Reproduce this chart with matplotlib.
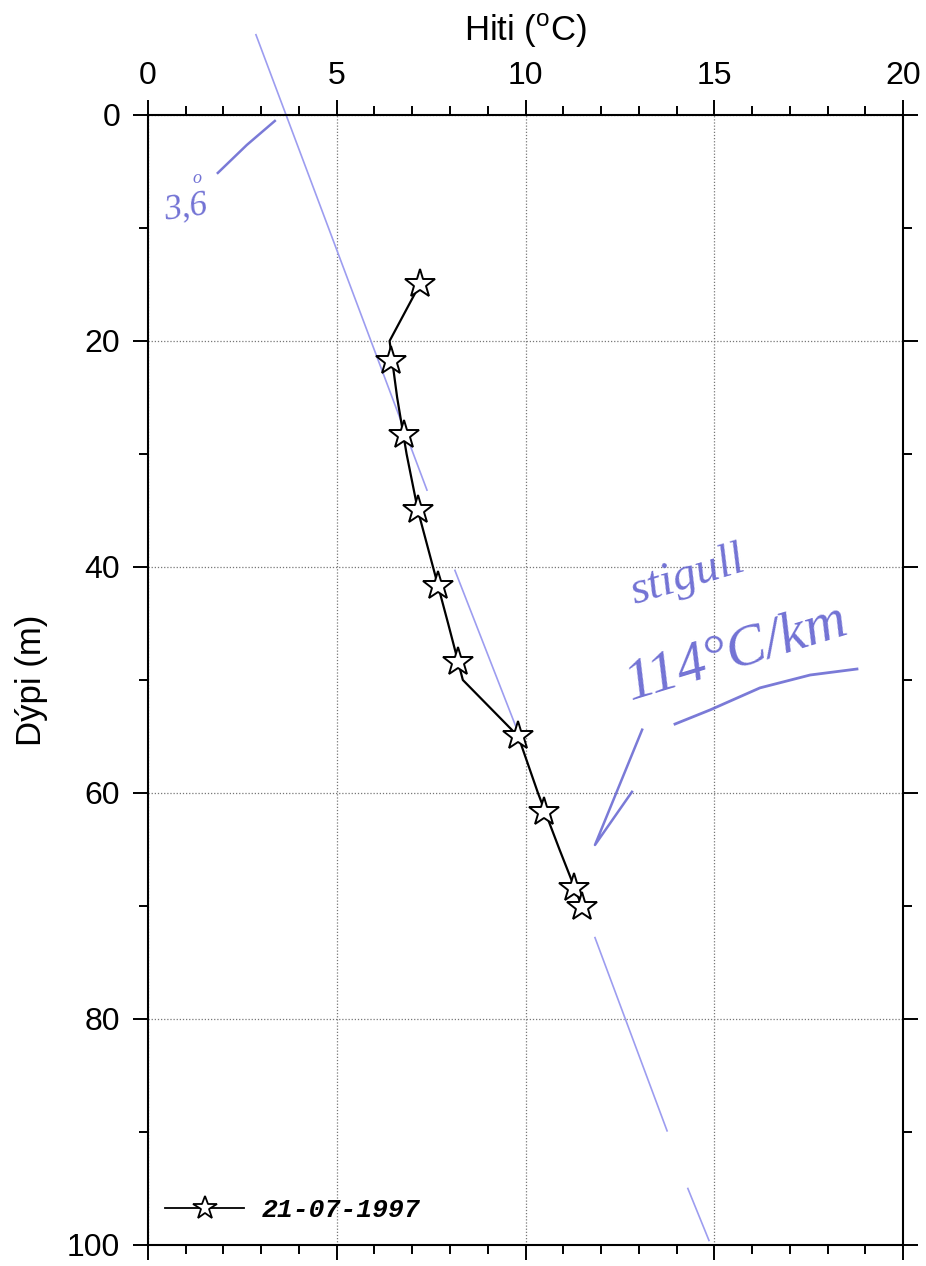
import matplotlib
matplotlib.use('Agg')
import matplotlib.pyplot as plt
from matplotlib.ticker import MultipleLocator

# temperature profile (line vertices)
lineDepth = [15, 20, 25, 30, 35, 40, 45, 50, 55, 60, 65, 70]
lineTemp = [7.2, 6.4, 6.6, 6.85, 7.15, 7.55, 7.95, 8.34, 9.81, 10.33, 10.9, 11.49]

# star markers
starDepth = [15.0, 21.8, 28.3, 35.0, 41.7, 48.4, 55.0, 61.7, 68.4, 70.1]
starTemp = [7.2, 6.45, 6.77, 7.15, 7.67, 8.21, 9.81, 10.5, 11.29, 11.49]

legendLabel = '21-07-1997'

# handdrawn pen line (segments of one straight gradient line)
penDepthStart = [-7.1, 40.3, 72.8, 95.0]
penDepthEnd = [33.2, 54.6, 89.9, 99.6]
penTempStart = [2.86, 8.13, 11.84, 14.30]
penTempEnd = [7.39, 9.80, 13.75, 14.86]

# handwritten strokes
curveTemp = [1.85, 2.62, 3.36]
curveDepth = [5.13, 2.65, 0.53]
underTemp = [13.96, 14.89, 16.21, 17.54, 18.78]
underDepth = [53.9, 52.65, 50.7, 49.56, 49.03]
arrowTemp = [13.09, 11.84, 12.82]
arrowDepth = [54.4, 64.6, 59.9]

penColor = '#9d9df0'
inkColor = '#6363d0'

plt.rcParams['font.family'] = ['Liberation Sans', 'DejaVu Sans']
plt.rcParams['mathtext.fontset'] = 'custom'
plt.rcParams['mathtext.rm'] = 'Liberation Sans'

fig = plt.figure(figsize=(9.26, 12.66), dpi=100)
ax = fig.add_axes([0.1598, 0.0166, 0.8154, 0.8926])

ax.plot(lineTemp, lineDepth, color='black', lw=1.6, zorder=3)
ax.plot(starTemp, starDepth, ls='none', marker='*', ms=22, mfc='white',
        mec='black', mew=1.4, zorder=4)
# legend proxy
ax.plot([], [], color='black', lw=1.3, marker='*', ms=22, mfc='white',
        mec='black', mew=1.3, label=legendLabel)

for t0, t1, d0, d1 in zip(penTempStart, penTempEnd, penDepthStart, penDepthEnd):
    ax.plot([t0, t1], [d0, d1], color=penColor, lw=1.2, clip_on=False, zorder=2)

ax.plot(curveTemp, curveDepth, color=inkColor, lw=1.8, alpha=0.85)
ax.plot(underTemp, underDepth, color=inkColor, lw=2.0, alpha=0.85)
ax.plot(arrowTemp, arrowDepth, color=inkColor, lw=1.8, alpha=0.85)

hand = dict(color=inkColor, family='Liberation Serif', style='italic', alpha=0.9)
ax.text(1.0, 8.3, '3,6', fontsize=25, rotation=8, ha='center', va='center', **hand)
ax.text(1.3, 5.6, 'o', fontsize=13, ha='center', va='center', **hand)
ax.text(14.3, 40.8, 'stigull', fontsize=34, rotation=17, ha='center', va='center', **hand)
ax.text(15.6, 47.6, '114°C/km', fontsize=42, rotation=17, ha='center', va='center', **hand)

ax.set_xlim(0, 20)
ax.set_ylim(100, 0)
ax.xaxis.tick_top()
ax.xaxis.set_label_position('top')
ax.xaxis.set_major_locator(MultipleLocator(5))
ax.xaxis.set_minor_locator(MultipleLocator(1))
ax.yaxis.set_major_locator(MultipleLocator(20))
ax.yaxis.set_minor_locator(MultipleLocator(10))
ax.tick_params(which='both', direction='out', top=True, bottom=True, left=True, right=True,
               labelbottom=False, labeltop=True, labelright=False, width=1.4)
ax.tick_params(which='major', length=11, labelsize=23)
ax.tick_params(which='minor', length=6.5)
ax.tick_params(axis='x', which='major', pad=6)
ax.tick_params(axis='y', which='major', pad=9)
for s in ax.spines.values():
    s.set_linewidth(1.5)

ax.grid(True, which='major', color='#777777', lw=0.9, ls=(0, (1, 1.5)))

ax.set_xlabel(r'Hiti ($^{\rm o}$C)', fontsize=25, labelpad=15)
ax.set_ylabel('Dýpi (m)', fontsize=25, labelpad=14)

ax.legend(loc='center left', bbox_to_anchor=(0.0225, 0.031), frameon=False,
          borderpad=0, borderaxespad=0, handlelength=3.0, handletextpad=0.65,
          markerscale=0.8, prop={'family': 'Liberation Mono', 'weight': 'bold',
                                 'style': 'italic', 'size': 19})

fig.savefig('out.png', dpi=100)
